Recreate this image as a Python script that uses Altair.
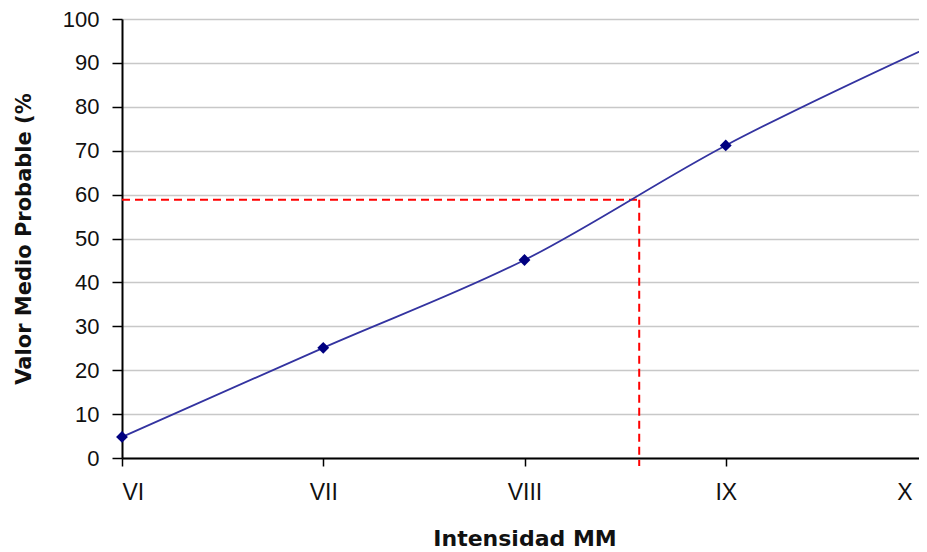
import altair as alt
import pandas as pd

intensity = [6, 7, 8, 9, 10]
roman = ["VI", "VII", "VIII", "IX", "X"]
valor = [4.8, 25.1, 45.1, 71.2, 93.4]

guide_x = [8.57]
guide_y = [58.8]

df = pd.DataFrame({"x": intensity, "y": valor})
guide = pd.DataFrame({"x": guide_x, "y": guide_y, "x0": [6]})

label_expr = "{6:'VI',7:'VII',8:'VIII',9:'IX',10:'X'}[datum.value]"

xs = alt.Scale(domain=[6, 10], nice=False, zero=False, range=[0, 805])
ys = alt.Scale(domain=[0, 100], nice=False)

x_axis = alt.Axis(values=intensity, labelExpr=label_expr, title="Intensidad MM",
                  grid=False, tickColor="#000000", domainColor="#000000",
                  domainWidth=2, tickSize=8, tickWidth=1.5, labelFont="Liberation Sans",
                  labelFontSize=23, labelColor="#111111", labelPadding=15,
                  labelOffset={"expr": "datum.value == 10 ? -15 : 0"},
                  titleFont="DejaVu Sans", titleFontSize=22, titleFontWeight="bold",
                  titleY=87, titleBaseline="alphabetic", titleColor="#111111")
y_axis = alt.Axis(values=list(range(0, 101, 10)), title="Valor Medio Probable (%",
                  grid=True, gridColor="#c8c8c8", gridWidth=1.5, tickColor="#000000",
                  domainColor="#000000", domainWidth=2, tickSize=10, tickWidth=1.5,
                  labelFont="Liberation Sans", labelFontSize=22, labelColor="#111111",
                  labelPadding=13, titleFont="DejaVu Sans", titleFontSize=21,
                  titleFontWeight="bold", titleX=-98,
                  titleBaseline="middle", titleColor="#111111")

base = alt.Chart(df)

line = base.mark_line(interpolate="monotone", color="#3333a0", strokeWidth=1.8).encode(
    x=alt.X("x:Q", scale=xs, axis=x_axis),
    y=alt.Y("y:Q", scale=ys, axis=y_axis),
)
points = base.mark_point(shape="diamond", filled=True, size=140, color="#000080", opacity=1).encode(
    x=alt.X("x:Q", scale=xs),
    y=alt.Y("y:Q", scale=ys),
)

gbase = alt.Chart(guide)
hrule = gbase.mark_rule(color="#ff0000", strokeWidth=2, strokeDash=[8, 5]).encode(
    x=alt.X("x0:Q", scale=xs), x2="x:Q", y=alt.Y("y:Q", scale=ys)
)
vrule = gbase.mark_rule(color="#ff0000", strokeWidth=2, strokeDash=[8, 5], y2Offset=8).encode(
    x=alt.X("x:Q", scale=xs), y=alt.Y("y:Q", scale=ys), y2=alt.datum(0)
)

chart = alt.layer(hrule, vrule, line, points).properties(
    width=797, height=439,
    autosize=alt.AutoSizeParams(type="none"),
    padding={"left": 114, "top": 11, "right": 0, "bottom": 94},
    background="white",
).configure_view(stroke=None)

chart.save("out.html", embed_options={"renderer": "svg", "actions": False})
